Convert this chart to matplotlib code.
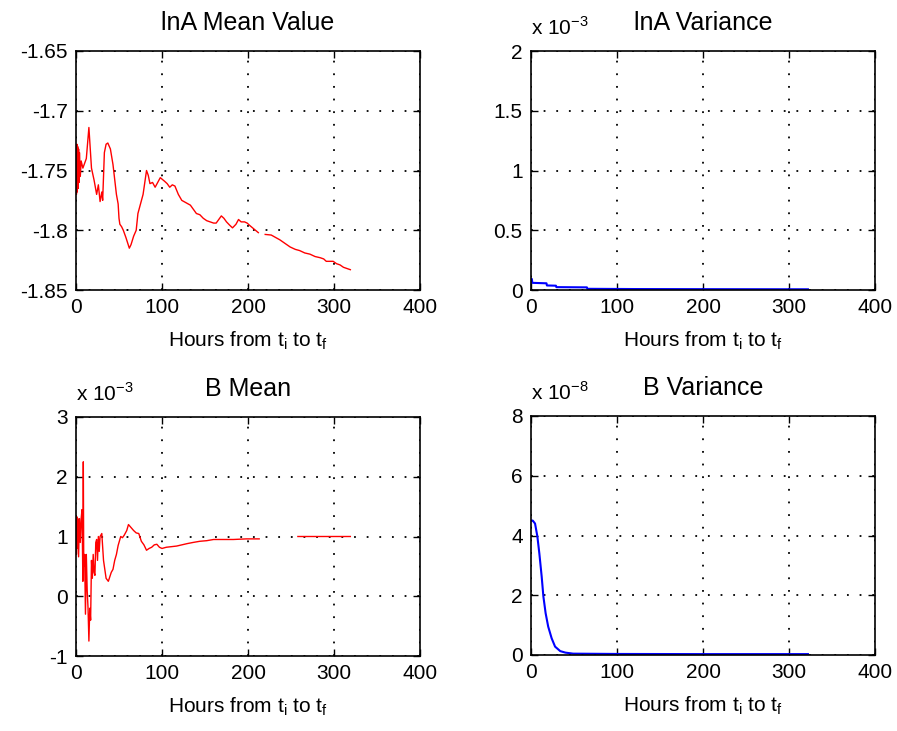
import numpy as np
import matplotlib
matplotlib.use("Agg")
import matplotlib.pyplot as plt
from matplotlib.ticker import FuncFormatter

plt.rcParams['font.family'] = ['Liberation Sans', 'DejaVu Sans']
plt.rcParams['font.size'] = 15

# ===== DATA =====
# lnA mean value
lna_mean_h = [0, 0.5, 1, 1.5, 2, 2.5, 3, 3.5, 4, 5, 6, 8, 10, 12, 15, 18, 21, 24, 26, 28, 30, 31,
              33, 35, 37, 40, 43, 47, 49, 50, 51, 53, 55, 58, 62, 64, 67, 70, 72, 75, 78, 82, 84, 86,
              89, 92, 95, 98, 103, 106, 109, 112, 115, 119, 123, 128, 133, 137, 140, 144, 148, 152,
              156, 160, 163, 166, 169, 172, 175, 179, 182, 186, 189, 192, 196, 199, 202, 207, 212,
              213, 219, 220, 227, 232, 237, 243, 249, 255, 260, 266, 272, 278, 284, 288, 291, 295,
              299, 303, 307, 311, 315, 319]
lna_mean = [-1.740, -1.770, -1.728, -1.768, -1.730, -1.765, -1.732, -1.760, -1.735, -1.755, -1.742,
            -1.748, -1.744, -1.740, -1.714, -1.748, -1.758, -1.770, -1.762, -1.776, -1.768, -1.775,
            -1.735, -1.728, -1.727, -1.732, -1.745, -1.770, -1.778, -1.790, -1.795, -1.797, -1.800,
            -1.806, -1.815, -1.812, -1.805, -1.800, -1.786, -1.778, -1.770, -1.750, -1.754, -1.761,
            -1.760, -1.764, -1.760, -1.756, -1.759, -1.761, -1.764, -1.762, -1.763, -1.770, -1.775,
            -1.777, -1.779, -1.783, -1.786, -1.787, -1.790, -1.792, -1.793, -1.794, -1.794, -1.791,
            -1.788, -1.790, -1.793, -1.796, -1.798, -1.795, -1.791, -1.793, -1.793, -1.794, -1.796,
            -1.799, -1.802, np.nan, np.nan, -1.8035, -1.804, -1.806, -1.808, -1.811, -1.814, -1.816,
            -1.817, -1.819, -1.820, -1.822, -1.823, -1.824, -1.826, -1.826, -1.826, -1.828, -1.829,
            -1.831, -1.832, -1.833]

# lnA variance (x 1e-3)
lna_var_h = [0, 1, 1.5, 18, 18.5, 29, 29.5, 65, 65.5, 120, 200, 322]
lna_var = [0.092, 0.092, 0.060, 0.056, 0.038, 0.036, 0.024, 0.022, 0.010, 0.008, 0.007, 0.006]

# B mean (x 1e-3)
b_mean_h = [0, 0.5, 1, 1.5, 2, 3, 4, 5, 6, 7, 8, 8.5, 9, 10, 11, 12, 13, 14, 15, 16, 17, 18, 19,
            20, 21, 22, 23, 24, 25, 26, 27, 28, 30, 32, 35, 37.6, 41, 43, 45, 47, 49, 52, 54, 56, 59,
            61, 64, 67, 70, 73, 76, 79, 82, 85, 88, 91, 94, 97, 100, 105, 111, 117, 123, 129, 136,
            144, 152, 160, 170, 183, 198, 213, 214, 257, 258, 319]
b_mean = [1.30, 0.70, 1.33, 0.80, 1.30, 0.66, 1.30, 0.90, 1.30, 1.45, 0.25, 2.25, 0.50, 0.70, -0.30,
          0.70, 0.10, -0.20, -0.75, -0.20, -0.40, 0.60, 0.30, 0.70, 0.40, 0.35, 0.90, 0.95, 0.60,
          1.00, 0.75, 1.00, 1.05, 0.60, 0.30, 0.25, 0.40, 0.45, 0.60, 0.70, 0.85, 1.00, 0.98, 1.02,
          1.10, 1.20, 1.15, 1.10, 1.06, 1.05, 0.92, 0.86, 0.77, 0.80, 0.82, 0.86, 0.87, 0.82, 0.80,
          0.82, 0.83, 0.84, 0.86, 0.88, 0.90, 0.92, 0.93, 0.95, 0.95, 0.95, 0.96, 0.96, np.nan,
          np.nan, 1.00, 1.00]

# B variance (x 1e-8)
b_var_h = [1, 2, 4.7, 7.4, 9.7, 12.4, 14.4, 17, 20, 24, 28, 34, 40, 49, 100, 200, 322]
b_var = [4.50, 4.50, 4.40, 3.97, 3.40, 2.63, 1.96, 1.40, 0.95, 0.56, 0.28, 0.13, 0.08, 0.045,
         0.035, 0.03, 0.03]

# ===== PLOT =====
fig = plt.figure(figsize=(8.97, 7.31), dpi=100)

W = 344 / 897
H = 239 / 731
pos = [
    [76 / 897, 1 - 290 / 731, W, H],
    [531 / 897, 1 - 290 / 731, W, H],
    [76 / 897, 1 - 656 / 731, W, H],
    [531 / 897, 1 - 655 / 731, W, H],
]

xlabel = r"Hours from $\mathregular{t_i}$ to $\mathregular{t_f}$"
fmt = FuncFormatter(lambda v, p: "%g" % round(v, 4))


def style(ax, title, yticks, exponent=None):
    ax.set_xlim(0, 400)
    ax.set_ylim(yticks[0], yticks[-1])
    ax.set_xticks([0, 100, 200, 300, 400])
    ax.set_yticks(yticks)
    ax.yaxis.set_major_formatter(fmt)
    ax.grid(True, color='black', linestyle=(0, (1, 6)), linewidth=1.3)
    ax.tick_params(direction='in', top=True, right=True, length=5, width=1, pad=6)
    for s in ax.spines.values():
        s.set_linewidth(1.2)
    ax.set_title(title, pad=15)
    ax.set_xlabel(xlabel, labelpad=9)
    if exponent is not None:
        ax.text(0.0, 1.05, r"x 10$^{\mathregular{%d}}$" % exponent,
                transform=ax.transAxes, ha='left', va='bottom')


ax1 = fig.add_axes(pos[0])
ax1.plot(lna_mean_h, lna_mean, color='red', linewidth=1)
style(ax1, "lnA Mean Value", [-1.85, -1.8, -1.75, -1.7, -1.65])

ax2 = fig.add_axes(pos[1])
ax2.plot(lna_var_h, lna_var, color='blue', linewidth=1.5)
style(ax2, "lnA Variance", [0, 0.5, 1, 1.5, 2], -3)

ax3 = fig.add_axes(pos[2])
ax3.plot(b_mean_h, b_mean, color='red', linewidth=1)
style(ax3, "B Mean", [-1, 0, 1, 2, 3], -3)

ax4 = fig.add_axes(pos[3])
ax4.plot(b_var_h, b_var, color='blue', linewidth=1.5)
style(ax4, "B Variance", [0, 2, 4, 6, 8], -8)

fig.savefig("out.png", dpi=100)
